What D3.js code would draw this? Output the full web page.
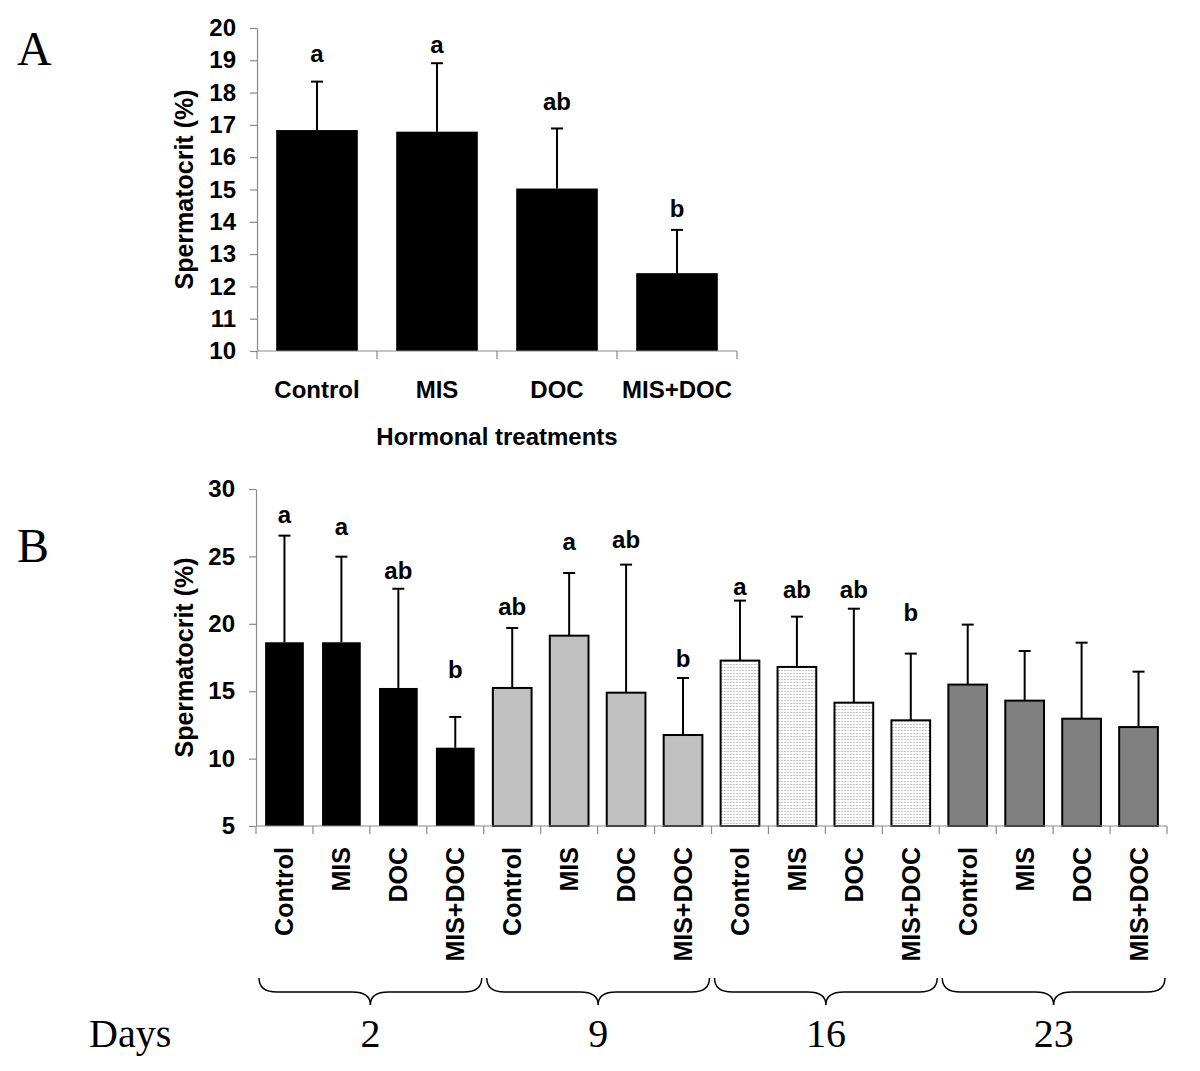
<!DOCTYPE html>
<html><head><meta charset="utf-8">
<script src="https://cdn.jsdelivr.net/npm/d3@7"></script>
<style>body{margin:0;background:#fff}</style>
</head><body>
<svg id="c" width="1200" height="1071"></svg>
<script>
// ---------- DATA ----------
const treatments = ["Control", "MIS", "DOC", "MIS+DOC"];
// Panel A
const meanA = [16.84, 16.79, 15.03, 12.41];
const errA = [1.50, 2.12, 1.86, 1.34];
const lettersA = ["a", "a", "ab", "b"];
const letterLevelA = [18.96, 19.22, 17.46, 14.15];
const ticksA = [10, 11, 12, 13, 14, 15, 16, 17, 18, 19, 20];
// Panel B
const days = ["2", "9", "16", "23"];
const meanDay2 = [18.63, 18.63, 15.24, 10.81];
const errDay2 = [7.91, 6.35, 7.36, 2.28];
const meanDay9 = [15.24, 19.12, 14.89, 11.75];
const errDay9 = [4.45, 4.65, 9.50, 4.23];
const meanDay16 = [17.27, 16.80, 14.15, 12.84];
const errDay16 = [4.45, 3.73, 6.97, 4.95];
const meanDay23 = [15.49, 14.30, 12.96, 12.34];
const errDay23 = [4.45, 3.68, 5.64, 4.11];
const lettersDay2 = ["a", "a", "ab", "b"];
const lettersDay9 = ["ab", "a", "ab", "b"];
const lettersDay16 = ["a", "ab", "ab", "b"];
const lettersDay23 = ["", "", "", ""];
const letterLevelDay2 = [27.45, 26.59, 23.32, 15.95];
const letterLevelDay9 = [20.65, 25.47, 25.60, 16.82];
const letterLevelDay16 = [22.14, 21.89, 21.89, 20.23];
const letterLevelDay23 = [0, 0, 0, 0];
const ticksB = [5, 10, 15, 20, 25, 30];

// ---------- SETUP ----------
const svg = d3.select("#c");
svg.append("rect").attr("width", 1200).attr("height", 1071).attr("fill", "#fff");
const defs = svg.append("defs");
const pat = defs.append("pattern").attr("id", "dots").attr("patternUnits", "userSpaceOnUse")
  .attr("width", 3).attr("height", 3);
pat.append("rect").attr("width", 3).attr("height", 3).attr("fill", "#fff");
pat.append("rect").attr("x", 1).attr("y", 1).attr("width", 1).attr("height", 1).attr("fill", "#8a8a8a");

const SANS = "'Liberation Sans', Arial, Helvetica, sans-serif";
const SERIF = "'Liberation Serif', 'Times New Roman', serif";
const AXIS_COL = "#8a8a8a";

function yAxis(g, y, ticks) {
  const ax = d3.axisLeft(y).tickValues(ticks).tickSize(7).tickSizeOuter(0).tickPadding(14);
  g.call(ax);
  g.select(".domain").attr("stroke", AXIS_COL).attr("stroke-width", 1.2);
  g.selectAll(".tick line").attr("stroke", AXIS_COL).attr("stroke-width", 1.2);
  g.selectAll(".tick text").attr("font-family", SANS).attr("font-weight", "bold")
    .attr("font-size", 24).attr("fill", "#000");
}

function bars(g, x, y, means, errs, letters, levels, fill, outline) {
  const bw = x.bandwidth();
  means.forEach((m, i) => {
    const x0 = x(i);
    const cx = x0 + bw / 2;
    const top = m + errs[i];
    g.append("line").attr("x1", cx).attr("x2", cx).attr("y1", y(m)).attr("y2", y(top))
      .attr("stroke", "#000").attr("stroke-width", 2);
    g.append("line").attr("x1", cx - 6).attr("x2", cx + 6).attr("y1", y(top)).attr("y2", y(top))
      .attr("stroke", "#000").attr("stroke-width", 2);
    g.append("rect").attr("x", x0).attr("y", y(m)).attr("width", bw)
      .attr("height", y.range()[0] - y(m))
      .attr("fill", fill).attr("stroke", outline ? "#000" : "none").attr("stroke-width", 2);
    if (letters[i]) {
      g.append("text").attr("x", cx).attr("y", y(levels[i])).attr("text-anchor", "middle")
        .attr("font-family", SANS).attr("font-weight", "bold").attr("font-size", 24)
        .text(letters[i]);
    }
  });
}

// ---------- PANEL A ----------
{
  const g = svg.append("g");
  const x0 = 257, x1 = 737;
  const y = d3.scaleLinear().domain([10, 20]).range([351, 28]);
  const x = d3.scaleBand().domain(d3.range(treatments.length)).range([x0, x1])
    .paddingInner(0.32).paddingOuter(0.16);
  bars(g, x, y, meanA, errA, lettersA, letterLevelA, "#000", false);
  const ga = g.append("g").attr("transform", `translate(${x0},0)`);
  yAxis(ga, y, ticksA);
  g.append("line").attr("x1", x0).attr("x2", x1).attr("y1", y(10)).attr("y2", y(10))
    .attr("stroke", AXIS_COL).attr("stroke-width", 1.2);
  const step = x.step();
  d3.range(treatments.length + 1).forEach(k => {
    g.append("line").attr("x1", x0 + k * step).attr("x2", x0 + k * step)
      .attr("y1", y(10)).attr("y2", y(10) + 8).attr("stroke", AXIS_COL).attr("stroke-width", 1.2);
  });
  treatments.forEach((t, i) => {
    g.append("text").attr("x", x0 + (i + 0.5) * step).attr("y", y(10) + 47)
      .attr("text-anchor", "middle").attr("font-family", SANS).attr("font-weight", "bold")
      .attr("font-size", 24).text(t);
  });
  g.append("text").attr("x", (x0 + x1) / 2).attr("y", 445).attr("text-anchor", "middle")
    .attr("font-family", SANS).attr("font-weight", "bold").attr("font-size", 24)
    .text("Hormonal treatments");
  g.append("text").attr("transform", `translate(184,${(y(10) + y(20)) / 2}) rotate(-90)`)
    .attr("text-anchor", "middle").attr("dominant-baseline", "central")
    .attr("font-family", SANS).attr("font-weight", "bold").attr("font-size", 25)
    .text("Spermatocrit (%)");
  svg.append("text").attr("x", 17).attr("y", 65).attr("font-family", SERIF)
    .attr("font-size", 48).text("A");
}

// ---------- PANEL B ----------
{
  const g = svg.append("g");
  const x0 = 256, x1 = 1167;
  const y = d3.scaleLinear().domain([5, 30]).range([826, 489]);
  const groups = d3.scaleBand().domain(days).range([x0, x1]);
  const gw = groups.bandwidth();
  const x = d3.scaleBand().domain(d3.range(treatments.length)).range([0, gw])
    .paddingInner(0.32).paddingOuter(0.16);
  const meansB = [meanDay2, meanDay9, meanDay16, meanDay23];
  const errsB = [errDay2, errDay9, errDay16, errDay23];
  const lettersB = [lettersDay2, lettersDay9, lettersDay16, lettersDay23];
  const levelsB = [letterLevelDay2, letterLevelDay9, letterLevelDay16, letterLevelDay23];
  const fills = ["#000", "#c0c0c0", "url(#dots)", "#808080"];
  days.forEach((d, k) => {
    const gg = g.append("g").attr("transform", `translate(${groups(d)},0)`);
    bars(gg, x, y, meansB[k], errsB[k], lettersB[k], levelsB[k], fills[k], k > 0);
  });
  const ga = g.append("g").attr("transform", `translate(${x0},0)`);
  yAxis(ga, y, ticksB);
  g.append("line").attr("x1", x0).attr("x2", x1).attr("y1", y(5)).attr("y2", y(5))
    .attr("stroke", AXIS_COL).attr("stroke-width", 1.2);
  const step = x.step();
  const n = days.length * treatments.length;
  d3.range(n + 1).forEach(k => {
    g.append("line").attr("x1", x0 + k * step).attr("x2", x0 + k * step)
      .attr("y1", y(5)).attr("y2", y(5) + 8).attr("stroke", AXIS_COL).attr("stroke-width", 1.2);
  });
  days.forEach((d, k) => {
    treatments.forEach((t, i) => {
      const cx = groups(d) + (i + 0.5) * step;
      g.append("text").attr("transform", `translate(${cx},847) rotate(-90)`)
        .attr("text-anchor", "end").attr("dominant-baseline", "central")
        .attr("font-family", SANS).attr("font-weight", "bold").attr("font-size", 25).text(t);
    });
    const bx0 = groups(d) + 3, bx1 = groups(d) + gw - 2, bm = (bx0 + bx1) / 2;
    const yt = 978, yl = 992, yp = 1005, q = 18;
    const p = `M${bx0},${yt} Q${bx0},${yl} ${bx0 + q},${yl} L${bm - q},${yl} Q${bm},${yl} ${bm},${yp} ` +
      `Q${bm},${yl} ${bm + q},${yl} L${bx1 - q},${yl} Q${bx1},${yl} ${bx1},${yt}`;
    g.append("path").attr("d", p).attr("fill", "none").attr("stroke", "#000").attr("stroke-width", 1.5);
    g.append("text").attr("x", bm).attr("y", 1047).attr("text-anchor", "middle")
      .attr("font-family", SERIF).attr("font-size", 40).text(d);
  });
  g.append("text").attr("transform", `translate(184,${(y(5) + y(30)) / 2}) rotate(-90)`)
    .attr("text-anchor", "middle").attr("dominant-baseline", "central")
    .attr("font-family", SANS).attr("font-weight", "bold").attr("font-size", 25)
    .text("Spermatocrit (%)");
  svg.append("text").attr("x", 89).attr("y", 1047).attr("font-family", SERIF)
    .attr("font-size", 40).text("Days");
  svg.append("text").attr("x", 17).attr("y", 562).attr("font-family", SERIF)
    .attr("font-size", 48).text("B");
}
</script>
</body></html>
